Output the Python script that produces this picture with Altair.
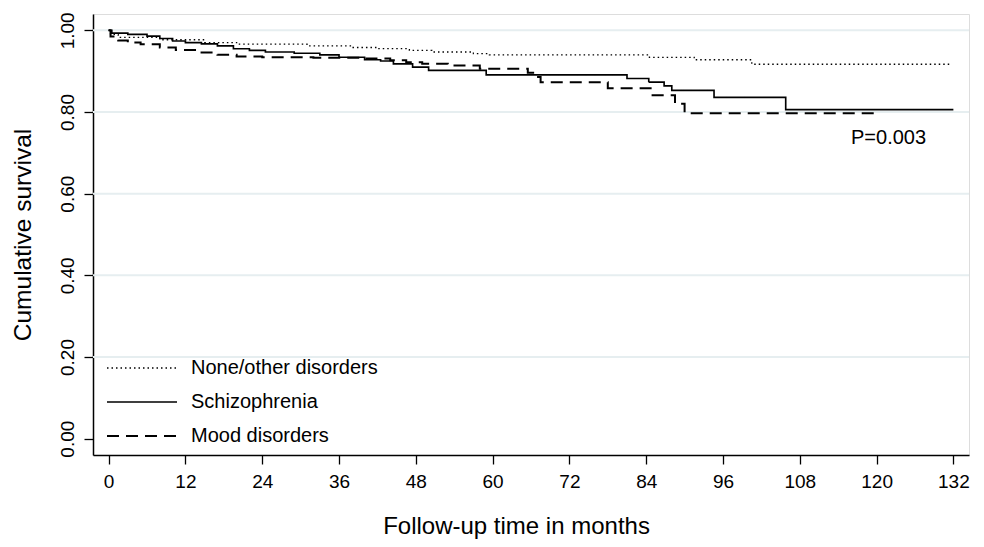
import altair as alt
import pandas as pd

groups = ["None/other disorders", "Schizophrenia", "Mood disorders"]

none_t = [0, 0.3, 1.5, 8, 15, 20, 31, 38, 42, 47, 50.5, 57, 59.5, 84.5, 91.5, 100.5, 131.6]
none_s = [1.0, 0.99, 0.983, 0.977, 0.970, 0.966, 0.962, 0.958, 0.955, 0.951, 0.947, 0.943, 0.940, 0.934, 0.928, 0.917, 0.917]

schizo_t = [0, 0.5, 3, 6, 8, 10, 12, 14.5, 17, 19.5, 22, 24.5, 29, 33, 36, 40, 42.5, 44.5, 47.5, 50,
            59, 81, 84.4, 86.8, 88, 94.6, 105.8, 132]
schizo_s = [1.0, 0.993, 0.99, 0.986, 0.98, 0.974, 0.970, 0.967, 0.962, 0.955, 0.951, 0.947, 0.944, 0.940,
            0.934, 0.928, 0.925, 0.918, 0.910, 0.902, 0.891, 0.882, 0.873, 0.864, 0.853, 0.836, 0.806, 0.806]

mood_t = [0, 0.3, 1.5, 3, 5, 8, 10.5, 14, 17, 20, 24, 32, 40, 44, 46.5, 49, 53, 58, 65.5, 66.8, 67.5,
          78, 85, 88.5, 90, 120]
mood_s = [1.0, 0.985, 0.975, 0.970, 0.966, 0.958, 0.952, 0.946, 0.940, 0.936, 0.934, 0.933, 0.931, 0.927,
          0.922, 0.918, 0.914, 0.906, 0.896, 0.886, 0.873, 0.858, 0.841, 0.820, 0.797, 0.797]

x_ticks = list(range(0, 133, 12))
y_ticks = [0.0, 0.2, 0.4, 0.6, 0.8, 1.0]
grid_vals = [0.2, 0.4, 0.6, 0.8, 1.0]

ann_text = ["P=0.003"]
ann_x = [116]
ann_y = [0.736]

rows = []
for g, ts, ss in zip(groups, [none_t, schizo_t, mood_t], [none_s, schizo_s, mood_s]):
    for t, s in zip(ts, ss):
        rows.append({"group": g, "month": t, "surv": s})
df = pd.DataFrame(rows)

FONT = "Liberation Sans"

xscale = alt.Scale(domain=[-2.44, 134.44], nice=False, zero=False)
yscale = alt.Scale(domain=[-0.04, 1.04], nice=False, zero=False)

xaxis = alt.Axis(values=x_ticks, format="d", grid=False, labelFont=FONT, labelFontSize=19,
                 labelColor="black", titleFont=FONT, titleFontSize=24, titleFontWeight="normal",
                 titleColor="black", domainColor="black", domainWidth=1.5, tickColor="black",
                 tickWidth=1.3, tickSize=9, labelPadding=8, titlePadding=23, labelFlush=False,
                 titleX=423, titleAlign="center", titleAnchor="start")
yaxis = alt.Axis(values=y_ticks, format=".2f", grid=False, labelFont=FONT, labelFontSize=19,
                 labelColor="black", labelAngle=270, labelAlign="center", labelBaseline="bottom",
                 titleFont=FONT, titleFontSize=24.5, titleFontWeight="normal", titleColor="black",
                 domainColor="black", domainWidth=1.5, tickColor="black", tickWidth=1.3, tickSize=9,
                 labelPadding=7, titlePadding=23, labelFlush=False)

X = alt.X("month:Q", scale=xscale, axis=xaxis, title="Follow-up time in months")
Y = alt.Y("surv:Q", scale=yscale, axis=yaxis, title="Cumulative survival")

grid = alt.Chart(pd.DataFrame({"surv": grid_vals})).mark_rule(
    color="#e6eef0", strokeWidth=2
).encode(y=Y)

lines = alt.Chart(df).mark_line(interpolate="step-after", color="black").encode(
    x=X,
    y=Y,
    strokeDash=alt.StrokeDash(
        "group:N",
        scale=alt.Scale(domain=groups, range=[[1.5, 3], [1, 0], [12, 7]]),
        sort=groups,
        legend=alt.Legend(title=None, orient="none", legendX=0, legendY=344,
                          symbolType="M-7,0H7", symbolSize=100, symbolStrokeColor="black",
                          symbolStrokeWidth=1.6, symbolFillColor="transparent",
                          symbolOffset=39, labelOffset=39, labelFont=FONT, labelFontSize=20,
                          labelColor="black", labelLimit=400, rowPadding=14, padding=0),
    ),
    strokeWidth=alt.StrokeWidth("group:N", scale=alt.Scale(domain=groups, range=[1.3, 2, 2]),
                                legend=None),
)

ann = alt.Chart(pd.DataFrame({"month": ann_x, "surv": ann_y, "txt": ann_text})).mark_text(
    align="left", baseline="middle", font=FONT, fontSize=20, color="black"
).encode(x=X, y=Y, text="txt:N")

chart = alt.layer(grid, lines, ann).properties(
    width=876, height=441,
    autosize=alt.AutoSizeParams(type="none"),
    padding={"left": 85, "top": 6, "right": 7, "bottom": 84},
).configure_view(stroke="#b3b3b3", strokeWidth=1.5).configure(background="white")

chart.save("out.html", embed_options={"renderer": "svg", "actions": False})
